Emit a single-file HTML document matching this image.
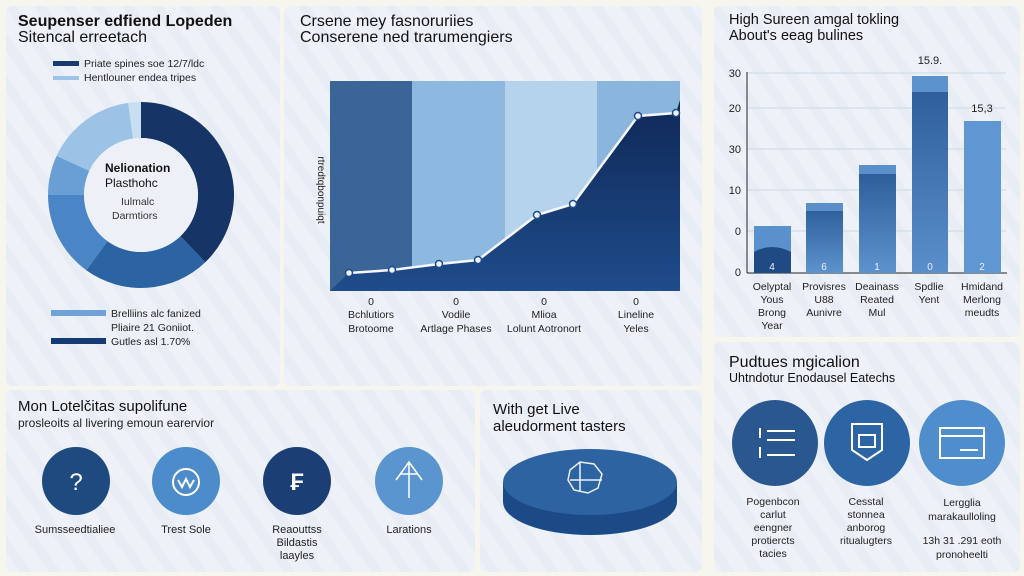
<!DOCTYPE html>
<html><head><meta charset="utf-8"><style>
html,body{margin:0;padding:0;background:#f6f6ee;}
svg{display:block;font-family:"Liberation Sans",sans-serif;}
</style></head><body>
<svg width="1024" height="576" viewBox="0 0 1024 576" xmlns="http://www.w3.org/2000/svg">
<defs>
<pattern id="st" width="24" height="24" patternUnits="userSpaceOnUse" patternTransform="rotate(-35)">
<rect width="24" height="24" fill="#eef2f8"/><rect width="10" height="24" fill="#e8edf5"/>
</pattern>
<linearGradient id="area" x1="0" y1="0" x2="0" y2="1"><stop offset="0" stop-color="#0f2858"/><stop offset="1" stop-color="#1f4c8a"/></linearGradient>
<linearGradient id="bar" x1="0" y1="0" x2="0" y2="1"><stop offset="0" stop-color="#2a5a96"/><stop offset="1" stop-color="#5d93cc"/></linearGradient>
<linearGradient id="bar4" x1="0" y1="0" x2="0" y2="1"><stop offset="0" stop-color="#2b5b98"/><stop offset="1" stop-color="#5a8fcb"/></linearGradient>
</defs>
<rect width="1024" height="576" fill="#f6f6ee"/>
<rect x="6" y="6" width="274" height="380" rx="6" fill="url(#st)"/>
<rect x="284" y="6" width="418" height="380" rx="6" fill="url(#st)"/>
<rect x="714" y="6" width="306" height="331" rx="6" fill="url(#st)"/>
<rect x="6" y="390" width="469" height="182" rx="6" fill="url(#st)"/>
<rect x="480" y="390" width="222" height="182" rx="6" fill="url(#st)"/>
<rect x="714" y="342" width="306" height="230" rx="6" fill="url(#st)"/>

<!-- P1 -->
<text x="18" y="26" font-size="16" font-weight="bold" fill="#111">Seupenser edfiend Lopeden</text>
<text x="18" y="42" font-size="16" fill="#111">Sitencal erreetach</text>
<rect x="53" y="61" width="26" height="5" fill="#1a3a70"/>
<text x="84" y="67" font-size="10.5" fill="#222">Priate spines soe 12/7/ldc</text>
<rect x="53" y="76" width="26" height="4" fill="#9dc3e6"/>
<text x="84" y="81" font-size="10.5" fill="#222">Hentlouner endea tripes</text>
<g transform="translate(141,195)">
<path d="M0,-93 A93,93 0 0 1 64.3,67.2 L39.4,41.2 A57,57 0 0 0 0,-57Z" fill="#163466"/>
<path d="M64.3,67.2 A93,93 0 0 1 -54.7,75.2 L-33.5,46.1 A57,57 0 0 0 39.4,41.2Z" fill="#2c63a3"/>
<path d="M-54.7,75.2 A93,93 0 0 1 -93,0 L-57,0 A57,57 0 0 0 -33.5,46.1Z" fill="#4a86c5"/>
<path d="M-93,0 A93,93 0 0 1 -84.3,-39.3 L-51.7,-24.1 A57,57 0 0 0 -57,0Z" fill="#6a9fd6"/>
<path d="M-84.3,-39.3 A93,93 0 0 1 -12.9,-92.1 L-7.9,-56.4 A57,57 0 0 0 -51.7,-24.1Z" fill="#9cc2e6"/>
<path d="M-12.9,-92.1 A93,93 0 0 1 0,-93 L0,-57 A57,57 0 0 0 -7.9,-56.4Z" fill="#c8def1"/>
<circle r="57" fill="#edf1f7"/>
<text x="-36" y="-23" font-size="12" font-weight="bold" fill="#111">Nelionation</text>
<text x="-36" y="-8" font-size="12" fill="#111">Plasthohc</text>
<text x="-20" y="10" font-size="10.5" fill="#333">Iulmalc</text>
<text x="-29" y="24" font-size="10.5" fill="#333">Darmtiors</text>
</g>
<rect x="51" y="310" width="55" height="6" fill="#6fa2d8"/>
<text x="111" y="317" font-size="10.5" fill="#222">Brelliins alc fanized</text>
<text x="111" y="331" font-size="10.5" fill="#222">Pliaire 21 Goniiot.</text>
<rect x="51" y="338" width="55" height="6" fill="#163a72"/>
<text x="111" y="345" font-size="10.5" fill="#222">Gutles asl 1.70%</text>

<!-- P2 -->
<text x="300" y="26" font-size="16" fill="#111">Crsene mey fasnoruriies</text>
<text x="300" y="42" font-size="16" fill="#111">Conserene ned trarumengiers</text>
<rect x="330" y="81" width="82" height="210" fill="#3a6596"/>
<rect x="412" y="81" width="93" height="210" fill="#8db8e0"/>
<rect x="505" y="81" width="92" height="210" fill="#b6d3ee"/>
<rect x="597" y="81" width="83" height="210" fill="#8ab5dd"/>
<path d="M330,291 L349,273 392,270 439,264 478,260 537,215 573,204 638,116 676,113 680,100 L680,291Z" fill="url(#area)"/>
<polyline points="349,273 392,270 439,264 478,260 537,215 573,204 638,116 676,113" fill="none" stroke="#f4f7fb" stroke-width="2.5"/>
<g fill="#eef3fa" stroke="#1f4c8a" stroke-width="1.5">
<circle cx="349" cy="273" r="3.5"/><circle cx="392" cy="270" r="3.5"/><circle cx="439" cy="264" r="3.5"/><circle cx="478" cy="260" r="3.5"/><circle cx="537" cy="215" r="3.5"/><circle cx="573" cy="204" r="3.5"/><circle cx="638" cy="116" r="3.5"/><circle cx="676" cy="113" r="3.5"/>
</g>
<text transform="translate(318,190) rotate(90)" text-anchor="middle" font-size="10" fill="#222">rtredtqbonpuiqt</text>
<g font-size="10.5" fill="#222" text-anchor="middle">
<text x="371" y="305">0</text><text x="371" y="318">Bchlutiors</text><text x="371" y="332">Brotoome</text>
<text x="456" y="305">0</text><text x="456" y="318">Vodile</text><text x="456" y="332">Artlage Phases</text>
<text x="544" y="305">0</text><text x="544" y="318">Mlioa</text><text x="544" y="332">Lolunt Aotronort</text>
<text x="636" y="305">0</text><text x="636" y="318">Lineline</text><text x="636" y="332">Yeles</text>
</g>

<!-- P3 -->
<text x="729" y="24" font-size="14.5" fill="#111">High Sureen amgal tokling</text>
<text x="729" y="40" font-size="14.5" fill="#111">About's eeag bulines</text>
<g stroke="#cdd6e2" stroke-width="1"><line x1="747" y1="73" x2="1006" y2="73"/><line x1="747" y1="108" x2="1006" y2="108"/><line x1="747" y1="149" x2="1006" y2="149"/><line x1="747" y1="190" x2="1006" y2="190"/><line x1="747" y1="231" x2="1006" y2="231"/></g>
<line x1="747" y1="72" x2="747" y2="273" stroke="#222"/>
<line x1="747" y1="273" x2="1007" y2="273" stroke="#222"/>
<g font-size="11" fill="#222" text-anchor="end">
<text x="741" y="77">30</text><text x="741" y="112">20</text><text x="741" y="153">30</text><text x="741" y="194">10</text><text x="741" y="235">0</text><text x="741" y="276">0</text>
</g>
<rect x="754" y="226" width="37" height="47" fill="#5a90cb"/><path d="M754,273 V252 Q772,242 791,252 V273Z" fill="#1f4a84"/>
<rect x="806" y="203" width="37" height="70" fill="url(#bar)"/><rect x="806" y="203" width="37" height="8" fill="#5a8fcb"/>
<rect x="859" y="165" width="37" height="108" fill="url(#bar)"/><rect x="859" y="165" width="37" height="9" fill="#5a8fcb"/>
<rect x="912" y="76" width="36" height="197" fill="url(#bar4)"/><rect x="912" y="76" width="36" height="16" fill="#5d93cd"/>
<rect x="964" y="121" width="37" height="152" fill="#5e97d2"/>
<g font-size="10" fill="#eef" text-anchor="middle"><text x="772" y="270">4</text><text x="824" y="270">6</text><text x="877" y="270">1</text><text x="930" y="270">0</text><text x="982" y="270">2</text></g>
<text x="930" y="64" font-size="11" fill="#222" text-anchor="middle">15.9.</text>
<text x="982" y="112" font-size="11" fill="#222" text-anchor="middle">15,3</text>
<g font-size="10.5" fill="#222" text-anchor="middle">
<text x="772" y="290">Oelyptal</text><text x="772" y="303">Yous</text><text x="772" y="316">Brong</text><text x="772" y="329">Year</text>
<text x="824" y="290">Provisres</text><text x="824" y="303">U88</text><text x="824" y="316">Aunivre</text>
<text x="877" y="290">Deainass</text><text x="877" y="303">Reated</text><text x="877" y="316">Mul</text>
<text x="929" y="290">Spdlie</text><text x="929" y="303">Yent</text>
<text x="982" y="290">Hmidand</text><text x="982" y="303">Merlong</text><text x="982" y="316">meudts</text>
</g>

<!-- P6 -->
<text x="729" y="367" font-size="16" fill="#111">Pudtues mgicalion</text>
<text x="729" y="382" font-size="12.5" fill="#111">Uhtndotur Enodausel Eatechs</text>
<circle cx="775" cy="443" r="43" fill="#2a5790"/>
<circle cx="867" cy="443" r="43" fill="#2d64a3"/>
<circle cx="962" cy="443" r="43" fill="#4f8dcc"/>
<g stroke="#fff" stroke-width="2" fill="none">
<line x1="760" y1="428" x2="760" y2="438"/><line x1="767" y1="431" x2="795" y2="431"/><line x1="767" y1="440" x2="795" y2="440"/><line x1="760" y1="447" x2="760" y2="458"/><line x1="767" y1="455" x2="795" y2="455"/>
<path d="M852,424 h30 v26 l-15,10 l-15,-10z"/><rect x="859" y="435" width="16" height="12"/>
<rect x="940" y="428" width="44" height="30"/><line x1="940" y1="436" x2="984" y2="436"/><line x1="960" y1="450" x2="978" y2="450"/>
</g>
<g font-size="10.5" fill="#222" text-anchor="middle">
<text x="773" y="505">Pogenbcon</text><text x="773" y="518">carlut</text><text x="773" y="531">eengner</text><text x="773" y="544">protiercts</text><text x="773" y="557">tacies</text>
<text x="866" y="505">Cesstal</text><text x="866" y="518">stonnea</text><text x="866" y="531">anborog</text><text x="866" y="544">ritualugters</text>
<text x="962" y="506">Lergglia</text><text x="962" y="520">marakaulloling</text><text x="962" y="544">13h 31 .291 eoth</text><text x="962" y="558">pronoheelti</text>
</g>

<!-- P4 -->
<text x="18" y="411" font-size="15" fill="#111">Mon Lotelčitas supolifune</text>
<text x="18" y="427" font-size="12" fill="#222">prosleoits al livering emoun earervior</text>
<circle cx="76" cy="481" r="34" fill="#1e4a80"/>
<circle cx="186" cy="481" r="34" fill="#4d8ccb"/>
<circle cx="297" cy="481" r="34" fill="#1b3f75"/>
<circle cx="409" cy="481" r="34" fill="#5b95d0"/>
<text x="76" y="490" font-size="24" fill="#fff" text-anchor="middle">?</text>
<circle cx="186" cy="482" r="13" fill="none" stroke="#fff" stroke-width="2"/><path d="M178,480 l4,7 l4,-8 l4,8 l4,-7" fill="none" stroke="#fff" stroke-width="2"/>
<text x="297" y="490" font-size="24" fill="#fff" text-anchor="middle" font-weight="bold">₣</text>
<path d="M409,462 v36 M396,480 l13,-18 l13,18 M400,474 h18" fill="none" stroke="#fff" stroke-width="1.5"/>
<g font-size="11" fill="#222" text-anchor="middle">
<text x="75" y="533">Sumsseedtialiee</text><text x="186" y="533">Trest Sole</text>
<text x="297" y="533">Reaouttss</text><text x="297" y="546">Bildastis</text><text x="297" y="559">laayles</text>
<text x="409" y="533">Larations</text>
</g>

<!-- P5 -->
<text x="493" y="414" font-size="15" fill="#111">With get Live</text>
<text x="493" y="431" font-size="15" fill="#111">aleudorment tasters</text>
<path d="M503,482 v20 a87,33 0 0 0 174,0 v-20z" fill="#1c4a86"/>
<ellipse cx="590" cy="482" rx="87" ry="33" fill="#2e63a2"/>
<path d="M570,470 l10,-8 l14,2 l8,10 l-4,14 l-10,5 l-14,-3 l-6,-10z M580,462 v30 M570,480 h32" fill="none" stroke="#eaf1fa" stroke-width="1.5"/>
</svg>
</body></html>
